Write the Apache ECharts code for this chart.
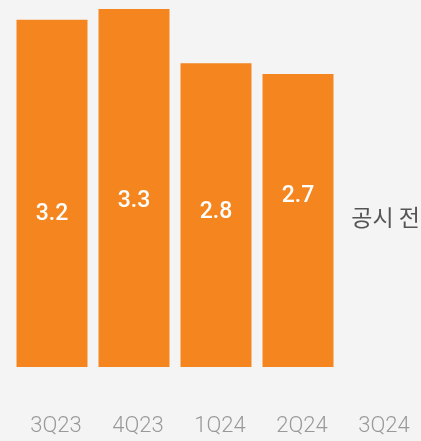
<!DOCTYPE html>
<html>
<head>
<meta charset="utf-8">
<script src="https://cdn.jsdelivr.net/npm/echarts@6/dist/echarts.min.js"></script>
<style>
    html, body { margin: 0; padding: 0; background: #f4f4f4; }
    #chart { width: 421px; height: 441px; }
</style>
</head>
<body>
<div id="chart"></div>
<script>
var categories = ['3Q23', '4Q23', '1Q24', '2Q24', '3Q24'];
var values = [3.2, 3.3, 2.8, 2.7, null];
var pendingText = '공시 전';

// label nudges so the numbers sit where the original has them
var labelShift = [21, 13, -3, -24, 0];

var myChart = echarts.init(document.getElementById('chart'));

var barData = [];
for (var i = 0; i < values.length; i++) {
    barData.push({
        value: values[i],
        label: { offset: [0, labelShift[i]] }
    });
}

var option = {
    backgroundColor: '#f4f4f4',
    animation: false,
    grid: { left: 11, right: 0, top: 9, bottom: 74 },
    xAxis: {
        type: 'category',
        data: categories,
        axisLine: { show: false },
        axisTick: { show: false },
        axisLabel: {
            margin: 48,
            color: '#999',
            fontFamily: 'Roboto',
            fontSize: 22,
            fontWeight: 300,
            padding: [0, 0, 0, 8]
        }
    },
    yAxis: {
        type: 'value',
        min: 0,
        max: 3.3,
        show: false,
        splitLine: { show: false }
    },
    series: [{
        type: 'bar',
        data: barData,
        barWidth: 71,
        itemStyle: { color: '#f5861f' },
        label: {
            show: true,
            position: 'inside',
            color: '#fff',
            fontFamily: 'Roboto',
            fontSize: 23,
            fontWeight: 500
        }
    }],
    graphic: [{
        type: 'text',
        right: 1,
        top: 206,
        style: {
            text: pendingText,
            fill: '#555',
            font: '23px "Noto Sans CJK KR"'
        }
    }]
};

myChart.setOption(option);
</script>
</body>
</html>
